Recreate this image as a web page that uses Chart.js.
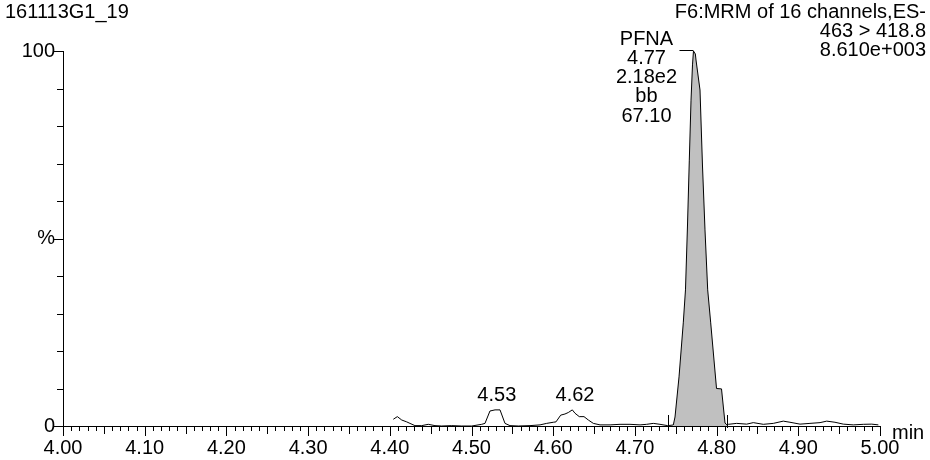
<!DOCTYPE html>
<html>
<head>
<meta charset="utf-8">
<script src="https://cdn.jsdelivr.net/npm/chart.js@4.4.1/dist/chart.umd.min.js"></script>
<style>
  body { margin: 0; background: #fff; }
  #wrap { width: 930px; height: 460px; }
</style>
</head>
<body>
<div id="wrap"><canvas id="chromChart" width="930" height="460"></canvas></div>
<script>
// retention time (min) and relative intensity (%)
const retentionTimes = [
  4.4043, 4.4092, 4.4146, 4.4207, 4.4247, 4.4308, 4.4390, 4.4471, 4.4553, 4.4635,
  4.4758, 4.4880, 4.5003, 4.5125, 4.5165, 4.5226, 4.5288, 4.5349, 4.5410, 4.5471,
  4.5573, 4.5716, 4.5839, 4.5920, 4.6001, 4.6034, 4.6092, 4.6144, 4.6185, 4.6234,
  4.6267, 4.6319, 4.6377, 4.6430, 4.6491, 4.6573, 4.6696, 4.6818, 4.6940, 4.7063,
  4.7144, 4.7225, 4.7307, 4.7401, 4.7470, 4.7491, 4.7540, 4.7592, 4.7619, 4.7644,
  4.7666, 4.7687, 4.7705, 4.7717, 4.7740, 4.7748, 4.7797, 4.7827, 4.7858, 4.7891,
  4.7928, 4.7968, 4.7999, 4.8060, 4.8103, 4.8127, 4.8143, 4.8246, 4.8368, 4.8449,
  4.8572, 4.8694, 4.8816, 4.8898, 4.9021, 4.9143, 4.9266, 4.9348, 4.9449, 4.9551,
  4.9673, 4.9796, 4.9898, 4.9980
];
const intensity = [
  1.8, 2.5, 1.6, 1.1, 0.7, 0.1, 0.1, 0.45, 0.1, 0.0,
  0.1, 0.0, 0.0, 0.45, 0.7, 4.0, 4.3, 4.3, 0.7, 0.1,
  0.0, 0.1, 0.3, 0.7, 1.0, 1.1, 2.9, 3.2, 3.6, 4.3,
  3.4, 2.5, 2.5, 1.6, 0.7, 0.3, 0.3, 0.45, 0.45, 0.3,
  0.45, 0.7, 0.45, 0.1, 0.27, 2.4, 13.1, 27.5, 36.3, 53.6,
  70.9, 86.9, 96.3, 100, 99.2, 97.6, 89.6, 69.6, 52.3, 36.3,
  27.5, 17.6, 10.0, 9.9, 0.8, 0.3, 0.45, 0.7, 0.5, 0.9,
  0.45, 0.7, 1.3, 1.0, 0.5, 0.7, 0.9, 1.3, 1.0, 0.5,
  0.3, 0.45, 0.5, 0.3
];

// integration limits of the PFNA peak
const peakStart = 4.741;
const peakEnd = 4.813;
const peakApex = 4.7717;
const peakInfo = ['PFNA', '4.77', '2.18e2', 'bb', '67.10'];

// small peaks labelled with their retention time
const minorPeakTimes = [4.531, 4.6267];
const minorPeakLabels = ['4.53', '4.62'];
const minorPeakHeights = [4.3, 4.3];

const xTickLabels = ['4.00', '4.10', '4.20', '4.30', '4.40', '4.50', '4.60', '4.70', '4.80', '4.90', '5.00'];
const yTickValues = [0, 50, 100];
const yTickLabels = ['0', '%', '100'];

const headerLeft = '161113G1_19';
const headerRight = ['F6:MRM of 16 channels,ES-', '463 > 418.8', '8.610e+003'];

const FONT = '20px "Liberation Sans", Arial, sans-serif';

const tracePoints = retentionTimes.map((t, i) => ({ x: t, y: intensity[i] }));
const areaPoints = tracePoints.filter(p => p.x >= peakStart && p.x <= peakEnd);

// axes, ticks and annotations drawn by hand (MassLynx style)
const chromAxes = {
  id: 'chromAxes',
  afterDraw(chart) {
    const c = chart.ctx;
    const xs = chart.scales.x, ys = chart.scales.y;
    const x0 = xs.getPixelForValue(4), x1 = xs.getPixelForValue(5);
    const y0 = ys.getPixelForValue(0), y100 = ys.getPixelForValue(100);
    c.save();
    c.strokeStyle = '#000';
    c.fillStyle = '#000';
    c.lineWidth = 1;

    // axis lines
    c.beginPath();
    c.moveTo(Math.round(x0) + 0.5, y100);
    c.lineTo(Math.round(x0) + 0.5, Math.round(y0) + 0.5);
    c.lineTo(x1, Math.round(y0) + 0.5);
    c.stroke();

    // y ticks every 10 %
    for (let v = 0; v <= 100; v += 10) {
      const y = Math.round(ys.getPixelForValue(v)) + 0.5;
      const len = (v % 50 === 0) ? 9 : 6;
      c.beginPath();
      c.moveTo(x0 - len, y);
      c.lineTo(x0, y);
      c.stroke();
    }
    // x ticks every 0.01 min
    for (let i = 0; i <= 100; i++) {
      const x = Math.round(xs.getPixelForValue(4 + i / 100)) + 0.5;
      const len = (i % 10 === 0) ? 10 : (i % 5 === 0 ? 8 : 5);
      c.beginPath();
      c.moveTo(x, y0);
      c.lineTo(x, y0 + len);
      c.stroke();
    }

    c.font = FONT;
    c.textBaseline = 'middle';
    c.textAlign = 'right';
    yTickValues.forEach((v, i) => {
      c.fillText(yTickLabels[i], x0 - 8, ys.getPixelForValue(v));
    });
    c.textAlign = 'center';
    xTickLabels.forEach(lbl => {
      c.fillText(lbl, xs.getPixelForValue(parseFloat(lbl)), y0 + 22);
    });
    c.textAlign = 'left';
    c.fillText('min', x1 + 12, y0 + 7);

    // header
    c.fillText(headerLeft, 5, 12);
    c.textAlign = 'right';
    headerRight.forEach((s, i) => c.fillText(s, 926, 12 + i * 19.3));

    // integration markers
    [peakStart, peakEnd].forEach(t => {
      const x = Math.round(xs.getPixelForValue(t)) + 0.5;
      c.beginPath();
      c.moveTo(x, y0 - 11);
      c.lineTo(x, y0 + 2);
      c.stroke();
    });

    // main peak annotation
    const apexX = xs.getPixelForValue(peakApex);
    const labX = apexX - 47;
    c.textAlign = 'center';
    peakInfo.forEach((s, i) => c.fillText(s, labX, 39 + i * 19.3));
    c.beginPath();
    c.moveTo(labX + 33, Math.round(y100) - 0.5);
    c.lineTo(apexX, Math.round(y100) - 0.5);
    c.stroke();

    // minor peak labels
    minorPeakTimes.forEach((t, i) => {
      c.fillText(minorPeakLabels[i], xs.getPixelForValue(t), ys.getPixelForValue(minorPeakHeights[i]) - 14);
    });
    c.restore();
  }
};

const ctx = document.getElementById('chromChart').getContext('2d');
new Chart(ctx, {
  type: 'line',
  data: {
    datasets: [{
      label: 'trace',
      data: tracePoints,
      borderColor: '#000',
      borderWidth: 1,
      pointRadius: 0,
      tension: 0,
      fill: false,
      order: 1,
      clip: false
    }, {
      label: 'area',
      data: areaPoints,
      borderWidth: 0,
      borderColor: 'rgba(0,0,0,0)',
      backgroundColor: '#c0c0c0',
      pointRadius: 0,
      tension: 0,
      fill: 'origin',
      order: 2,
      clip: false
    }]
  },
  options: {
    responsive: false,
    animation: false,
    layout: { padding: { left: 63, right: 50, top: 51, bottom: 34 } },
    plugins: { legend: { display: false }, tooltip: { enabled: false } },
    scales: {
      x: { type: 'linear', min: 4, max: 5, display: false },
      y: { type: 'linear', min: 0, max: 100, display: false }
    }
  },
  plugins: [chromAxes]
});
</script>
</body>
</html>
